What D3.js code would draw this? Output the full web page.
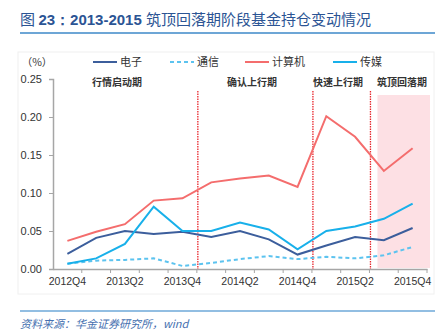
<!DOCTYPE html>
<html lang="zh">
<head>
  <meta charset="UTF-8">
  <title>2013-2015 筑顶回落期阶段基金持仓变动情况</title>
  <script src="https://d3js.org/d3.v7.min.js"></script>
  <style>
    body { margin: 0; background: #fff; }
    svg { display: block; font-family: "Noto Sans CJK SC", "Noto Sans", sans-serif; }
    .tick text { fill: #333; }
  </style>
</head>
<body>
<svg width="446" height="334"></svg>
<script>
// === Data ===
const quarters = ["2012Q4","2013Q1","2013Q2","2013Q3","2013Q4","2014Q1","2014Q2",
  "2014Q3","2014Q4","2015Q1","2015Q2","2015Q3","2015Q4"];
const xLabels = ["2012Q4","2013Q2","2013Q4","2014Q2","2014Q4","2015Q2","2015Q4"];
const yTicks = [0, 0.05, 0.10, 0.15, 0.20, 0.25];

const dianzi   = [0.020, 0.041, 0.050, 0.046, 0.049, 0.042, 0.050, 0.039, 0.019, 0.031, 0.042, 0.038, 0.054];
const tongxin  = [0.007, 0.011, 0.012, 0.014, 0.004, 0.008, 0.013, 0.017, 0.013, 0.016, 0.014, 0.018, 0.029];
const jisuanji = [0.037, 0.049, 0.059, 0.090, 0.093, 0.114, 0.119, 0.123, 0.108, 0.201, 0.174, 0.129, 0.159];
const chuanmei = [0.007, 0.014, 0.033, 0.082, 0.050, 0.050, 0.061, 0.052, 0.026, 0.050, 0.056, 0.066, 0.086];

const seriesNames = ["电子", "通信", "计算机", "传媒"];
// phases: name + first quarter of the phase
const phaseNames = ["行情启动期", "确认上行期", "快速上行期", "筑顶回落期"];
const phaseStarts = ["2012Q4", "2014Q1", "2015Q1", "2015Q3"];

const series = [
  { name: seriesNames[0], values: dianzi,   color: "#3c5e9c", dash: null },
  { name: seriesNames[1], values: tongxin,  color: "#5cc3ef", dash: "4,3" },
  { name: seriesNames[2], values: jisuanji, color: "#f46d6d", dash: null },
  { name: seriesNames[3], values: chuanmei, color: "#18b0ea", dash: null }
];

const svg = d3.select("svg");

// === Scales ===
const x = d3.scaleBand().domain(quarters).range([53, 427]);
const y = d3.scaleLinear().domain([0, 0.25]).range([269, 79]);
const cx = q => x(q) + x.bandwidth() / 2;

// === Frame / title ===
svg.append("rect")
  .attr("x", 18).attr("y", 52).attr("width", 416).attr("height", 242)
  .attr("fill", "none").attr("stroke", "#f0f0f0");

const title = svg.append("text").attr("x", 20).attr("y", 25)
  .attr("font-size", 15).attr("fill", "#2b5494");
title.append("tspan").text("图 ");
title.append("tspan").attr("font-weight", "bold").attr("font-family", "Liberation Sans, sans-serif").text("23：2013-2015 ");
title.append("tspan").text("筑顶回落期阶段基金持仓变动情况");

svg.append("line").attr("x1", 20).attr("x2", 435).attr("y1", 33).attr("y2", 33)
  .attr("stroke", "#3d88c9").attr("stroke-width", 1.5);

svg.append("line").attr("x1", 20).attr("x2", 435).attr("y1", 311).attr("y2", 311)
  .attr("stroke", "#6ea9d8").attr("stroke-width", 1.5);

svg.append("text").attr("x", 20).attr("y", 328)
  .attr("font-size", 11).attr("font-style", "italic").attr("fill", "#4670b0")
  .text("资料来源：华金证券研究所，wind");

// === Shaded last phase ===
svg.append("rect")
  .attr("x", x(phaseStarts[3]) + 8).attr("y", 95)
  .attr("width", 430 - x(phaseStarts[3]) - 8).attr("height", 268 - 95)
  .attr("fill", "#fde0e4");

// === Axes ===
const yAxis = svg.append("g").attr("transform", "translate(53,0)")
  .call(d3.axisLeft(y).tickValues(yTicks).tickFormat(d3.format(".2f")).tickSize(4).tickPadding(7));
yAxis.select(".domain").attr("stroke", "#a6a6a6").attr("stroke-width", 1.5);
yAxis.selectAll(".tick line").attr("stroke", "#a6a6a6");
yAxis.selectAll("text").attr("font-size", 11).attr("font-family", "Liberation Sans, sans-serif");

const xAxis = svg.append("g").attr("transform", "translate(0,269)")
  .call(d3.axisBottom(x).tickValues(xLabels).tickSize(0).tickPadding(9));
xAxis.select(".domain").attr("stroke", "#a6a6a6").attr("stroke-width", 1.5);
xAxis.selectAll("text").attr("font-size", 10.5).attr("font-family", "Liberation Sans, sans-serif");

// tick marks at category boundaries
svg.append("g").selectAll("line")
  .data(quarters.slice(1).concat(["end"]))
  .join("line")
  .attr("x1", (d, i) => i < quarters.length - 1 ? x(d) : x.range()[1])
  .attr("x2", (d, i) => i < quarters.length - 1 ? x(d) : x.range()[1])
  .attr("y1", 269).attr("y2", 273)
  .attr("stroke", "#a6a6a6");

// === Phase dividers ===
svg.append("g").selectAll("line")
  .data(phaseStarts.slice(1))
  .join("line")
  .attr("x1", d => x(d) + 1).attr("x2", d => x(d) + 1)
  .attr("y1", 91).attr("y2", 269)
  .attr("stroke", "#e8262c").attr("stroke-width", 1.3)
  .attr("stroke-dasharray", "1.5,1");

const phaseCenters = [117, 252, 338, 402];
svg.append("g").selectAll("text")
  .data(phaseNames)
  .join("text")
  .attr("x", (d, i) => phaseCenters[i]).attr("y", 86)
  .attr("text-anchor", "middle")
  .attr("font-size", 10).attr("font-weight", "bold").attr("fill", "#333")
  .text(d => d);

// === Lines ===
const line = d3.line().x((d, i) => cx(quarters[i])).y(d => y(d));
svg.append("g").selectAll("path")
  .data(series)
  .join("path")
  .attr("d", d => line(d.values))
  .attr("fill", "none")
  .attr("stroke", d => d.color)
  .attr("stroke-width", 2)
  .attr("stroke-dasharray", d => d.dash);

// === Legend ===
svg.append("text").attr("x", 37).attr("y", 66).attr("text-anchor", "middle")
  .attr("font-size", 10.5).attr("fill", "#333").text("（%）");

const legendX = [93, 170, 245, 333];
const legend = svg.append("g").selectAll("g")
  .data(series)
  .join("g")
  .attr("transform", (d, i) => `translate(${legendX[i]},62)`);
legend.append("line")
  .attr("x1", 0).attr("x2", 24)
  .attr("stroke", d => d.color).attr("stroke-width", 2)
  .attr("stroke-dasharray", d => d.dash);
legend.append("text")
  .attr("x", 27).attr("y", 4)
  .attr("font-size", 11).attr("fill", "#333")
  .text(d => d.name);
</script>
</body>
</html>
